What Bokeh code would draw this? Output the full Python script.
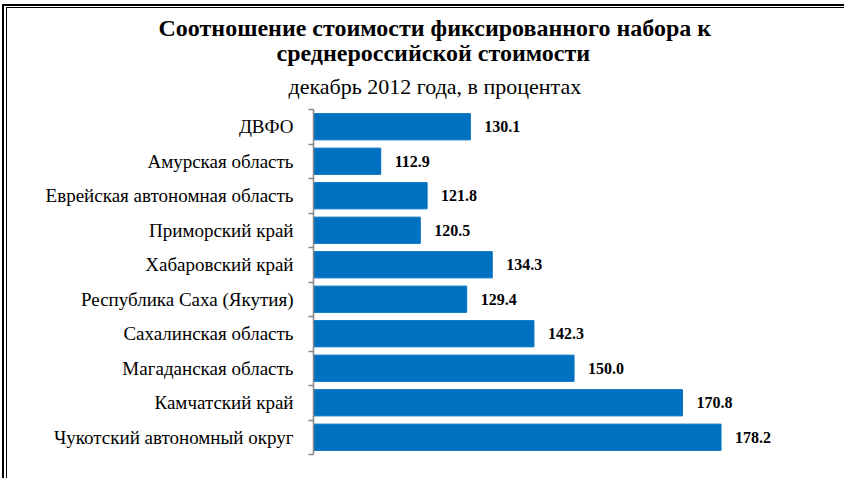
from bokeh.plotting import figure
from bokeh.models import FixedTicker, Title, LabelSet, ColumnDataSource, Range1d
from bokeh.embed import file_html
from bokeh.resources import INLINE

regions = ["ДВФО", "Амурская область", "Еврейская автономная область",
           "Приморский край", "Хабаровский край", "Республика Саха (Якутия)",
           "Сахалинская область", "Магаданская область", "Камчатский край",
           "Чукотский автономный округ"]
values = [130.1, 112.9, 121.8, 120.5, 134.3, 129.4, 142.3, 150.0, 170.8, 178.2]
value_labels = ["130.1", "112.9", "121.8", "120.5", "134.3", "129.4", "142.3", "150.0", "170.8", "178.2"]
title_lines = ["Соотношение стоимости фиксированного набора к",
               "среднероссийской стоимости"]
subtitle = "декабрь 2012 года, в процентах"

n = len(regions)
ypos = [i + 0.5 for i in range(n)]
src = ColumnDataSource(dict(y=ypos, value=values, label=value_labels, name=regions))

SERIF = "Liberation Serif"

p = figure(width=844, height=478, output_backend="svg", toolbar_location=None,
           x_range=Range1d(100, 190), y_range=Range1d(n, 0),
           min_border_left=313, min_border_right=62, min_border_bottom=24,
           min_border_top=109, title=None)
p.background_fill_color = None
p.border_fill_color = None
p.outline_line_color = None
p.styles = {"box-shadow": ("inset 2px 4px 0 0 #fff, inset 4px 6px 0 0 #000, "
                           "inset 6px 7px 0 0 #fff, inset 7px 8px 0 0 #000")}

p.hbar(y="y", left=100, right="value", height=0.76, source=src,
       fill_color="#0070C0", line_color="#0070C0")

p.add_layout(LabelSet(x="value", y="y", text="label", source=src, x_offset=14,
                      text_baseline="middle", text_font=SERIF, text_font_size="16px",
                      text_font_style="bold", text_color="black"))

p.xaxis.visible = False
p.xgrid.visible = False
p.ygrid.visible = False

ax = p.yaxis[0]
ax.ticker = FixedTicker(ticks=ypos, minor_ticks=list(range(n + 1)))
ax.major_label_overrides = {y: r for y, r in zip(ypos, regions)}
ax.axis_line_color = "#868686"
ax.axis_line_width = 1.5
ax.major_tick_line_color = None
ax.major_tick_out = 0
ax.major_tick_in = 0
ax.minor_tick_line_color = "#868686"
ax.minor_tick_line_width = 1.5
ax.minor_tick_out = 5
ax.minor_tick_in = 0
ax.major_label_standoff = 15
ax.major_label_text_font = SERIF
ax.major_label_text_font_size = "19px"
ax.major_label_text_color = "black"

# titles (added bottom-up: the last one added sits on top)
p.add_layout(Title(text=subtitle, align="left", offset=-25, text_font=SERIF,
                   text_font_size="22px", text_font_style="normal", standoff=21,
                   text_color="black"), "above")
p.add_layout(Title(text=title_lines[1], align="left", offset=-37, text_font=SERIF,
                   text_font_size="24px", text_font_style="bold", standoff=-8,
                   text_color="black"), "above")
p.add_layout(Title(text=title_lines[0], align="left", offset=-155, text_font=SERIF,
                   text_font_size="24px", text_font_style="bold", standoff=2,
                   text_color="black"), "above")

open("out.html", "w").write(file_html(p, INLINE))
